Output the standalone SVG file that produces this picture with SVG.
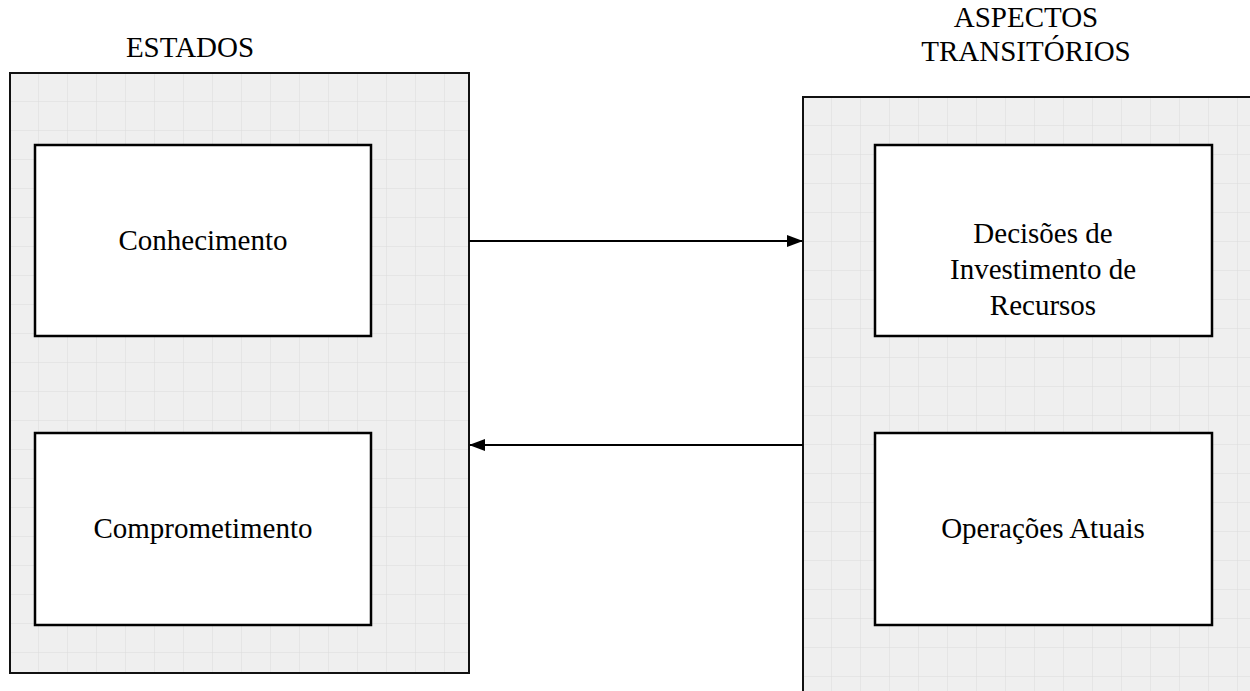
<svg xmlns="http://www.w3.org/2000/svg" width="1250" height="691" viewBox="0 0 1250 691">
  <style>
    .label { font-family: "Liberation Serif", "Times New Roman", serif; font-size: 29px; fill: #000; text-anchor: middle; }
    .panel { stroke: #111; stroke-width: 2; }
    .box { fill: #fff; stroke: #000; stroke-width: 2.5; }
    .link { stroke: #000; stroke-width: 2; fill: none; }
  </style>
  <defs>
    <pattern id="gridL" patternUnits="userSpaceOnUse" x="10" y="73" width="29" height="29">
      <rect width="29" height="29" fill="#efefef"/>
      <path d="M29 0V29M0 29H29" stroke="#dcdcdc" stroke-width="1" fill="none"/>
    </pattern>
    <pattern id="gridR" patternUnits="userSpaceOnUse" x="803" y="97" width="29" height="29">
      <rect width="29" height="29" fill="#efefef"/>
      <path d="M29 0V29M0 29H29" stroke="#dcdcdc" stroke-width="1" fill="none"/>
    </pattern>
    <marker id="arrow" viewBox="0 0 16 12" refX="15" refY="6" markerWidth="16" markerHeight="12" markerUnits="userSpaceOnUse" orient="auto">
      <path d="M0 0L16 6L0 12Z" fill="#000"/>
    </marker>
  </defs>

  <!-- left panel: states -->
  <g id="estados">
    <rect class="panel" x="10" y="73" width="459" height="600" fill="url(#gridL)"/>
    <text class="label" x="190" y="57">ESTADOS</text>
  </g>

  <!-- right panel: transitional aspects -->
  <g id="aspectos">
    <rect class="panel" x="803" y="97" width="460" height="610" fill="url(#gridR)"/>
    <text class="label" x="1026" y="27">ASPECTOS</text>
    <text class="label" x="1026" y="61">TRANSITÓRIOS</text>
  </g>

  <g id="conhecimento">
    <rect class="box" x="35" y="145" width="336" height="191"/>
    <text class="label" x="203" y="250">Conhecimento</text>
  </g>

  <g id="comprometimento">
    <rect class="box" x="35" y="433" width="336" height="192"/>
    <text class="label" x="203" y="538">Comprometimento</text>
  </g>

  <g id="decisoes">
    <rect class="box" x="875" y="145" width="337" height="191"/>
    <text class="label" x="1043" y="243">Decisões de</text>
    <text class="label" x="1043" y="279">Investimento de</text>
    <text class="label" x="1043" y="315">Recursos</text>
  </g>

  <g id="operacoes">
    <rect class="box" x="875" y="433" width="337" height="192"/>
    <text class="label" x="1043" y="538">Operações Atuais</text>
  </g>

  <!-- connectors between panels -->
  <g id="connectors">
    <line class="link" x1="469" y1="241" x2="802" y2="241" marker-end="url(#arrow)"/>
    <line class="link" x1="803" y1="445" x2="470" y2="445" marker-end="url(#arrow)"/>
  </g>
</svg>
